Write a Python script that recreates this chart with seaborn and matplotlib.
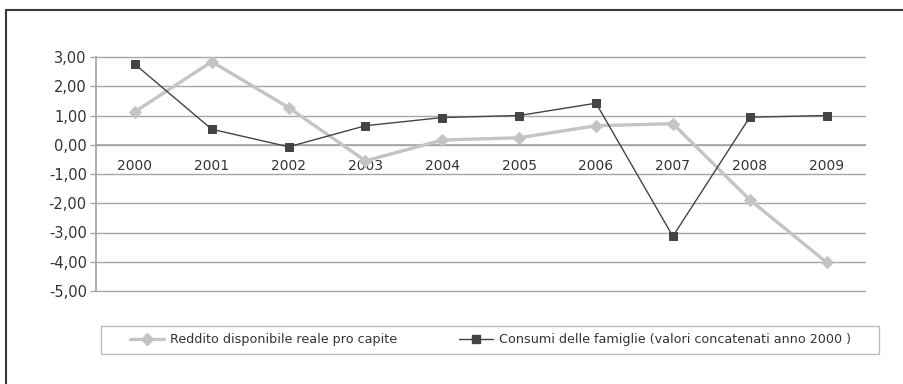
import matplotlib
matplotlib.use("Agg")
import matplotlib.pyplot as plt
from matplotlib.lines import Line2D
from matplotlib.patches import Rectangle
from matplotlib.ticker import MultipleLocator, FuncFormatter
import seaborn as sns
import pandas as pd

years = [2000, 2001, 2002, 2003, 2004, 2005, 2006, 2007, 2008, 2009]
reddito = [1.13, 2.84, 1.27, -0.55, 0.16, 0.24, 0.65, 0.72, -1.88, -4.02]
consumi = [2.75, 0.53, -0.07, 0.65, 0.93, 1.00, 1.42, -3.13, 0.94, 1.00]
label_reddito = "Reddito disponibile reale pro capite"
label_consumi = "Consumi delle famiglie (valori concatenati anno 2000 )"

sns.set_theme(style="white")
plt.rcParams["font.family"] = ["DejaVu Sans"]

TEXT = "#333333"
GRID = "#a6a6a6"
LIGHT = "#c4c4c4"
DARK = "#444444"

df = pd.DataFrame({
    "anno": years * 2,
    "valore": reddito + consumi,
    "serie": [label_reddito] * len(years) + [label_consumi] * len(years),
})

fig = plt.figure(figsize=(9.04, 3.84), dpi=100)
ax = fig.add_axes([96.5 / 904, 93 / 384, (865 - 96.5) / 904, (291 - 57) / 384])

sns.lineplot(data=df[df.serie == label_reddito], x="anno", y="valore",
             color=LIGHT, lw=2.4, marker="D", markersize=6.5,
             markeredgecolor=LIGHT, ax=ax, legend=False, zorder=3)
sns.lineplot(data=df[df.serie == label_consumi], x="anno", y="valore",
             color=DARK, lw=1.0, marker="s", markersize=5.8,
             markeredgecolor=DARK, ax=ax, legend=False, zorder=4)

ax.set_xlim(years[0] - 0.5, years[-1] + 0.5)
ax.set_ylim(-5, 3)
ax.set_xlabel("")
ax.set_ylabel("")

# horizontal gridlines
ax.yaxis.set_major_locator(MultipleLocator(1))
ax.yaxis.set_major_formatter(FuncFormatter(lambda v, p: f"{v:.2f}".replace(".", ",")))
ax.grid(False)
for v in range(-5, 4):
    ax.axhline(v, color=GRID, lw=1.0, zorder=1, clip_on=False)

# category axis drawn on the zero line
ax.spines["bottom"].set_position(("data", 0))
ax.spines["bottom"].set_color(GRID)
ax.spines["left"].set_color(GRID)
ax.spines["top"].set_visible(False)
ax.spines["right"].set_visible(False)
ax.set_xticks(years)
ax.set_xticklabels([str(y) for y in years])
ax.set_xticks([y + 0.5 for y in years], minor=True)
ax.tick_params(axis="x", which="major", length=0, pad=10, labelsize=10, labelcolor=TEXT)
ax.tick_params(axis="x", which="minor", length=5, width=1, color=GRID, direction="out")
ax.tick_params(axis="y", which="major", length=4, width=1, color=GRID, pad=3,
               labelsize=10.5, labelcolor=TEXT, left=True)
ax.patch.set_alpha(0)

# legend row
handles = [
    Line2D([], [], color=LIGHT, lw=2.4, marker="D", markersize=6.5, markeredgecolor=LIGHT),
    Line2D([], [], color=DARK, lw=1.0, marker="s", markersize=5.8, markeredgecolor=DARK),
]
leg = fig.legend(handles, [label_reddito, label_consumi], ncol=2,
                 loc="center", bbox_to_anchor=(490.5 / 904, 1 - 340 / 384),
                 frameon=False, fontsize=9.2, handlelength=2.66, handletextpad=0.47,
                 columnspacing=4.9, labelcolor=TEXT)
fig.add_artist(Rectangle((101 / 904, 1 - 354 / 384), 778 / 904, 28.5 / 384,
                         transform=fig.transFigure, fill=False, ec="#bdbdbd", lw=1.0))

# outer frame
fig.add_artist(Line2D([6 / 904, 1], [1 - 10 / 384, 1 - 10 / 384],
                      transform=fig.transFigure, color="#3a3a3a", lw=1.5))
fig.add_artist(Line2D([6 / 904, 6 / 904], [0, 1 - 10 / 384],
                      transform=fig.transFigure, color="#3a3a3a", lw=1.5))

fig.savefig("out.png", dpi=100)
